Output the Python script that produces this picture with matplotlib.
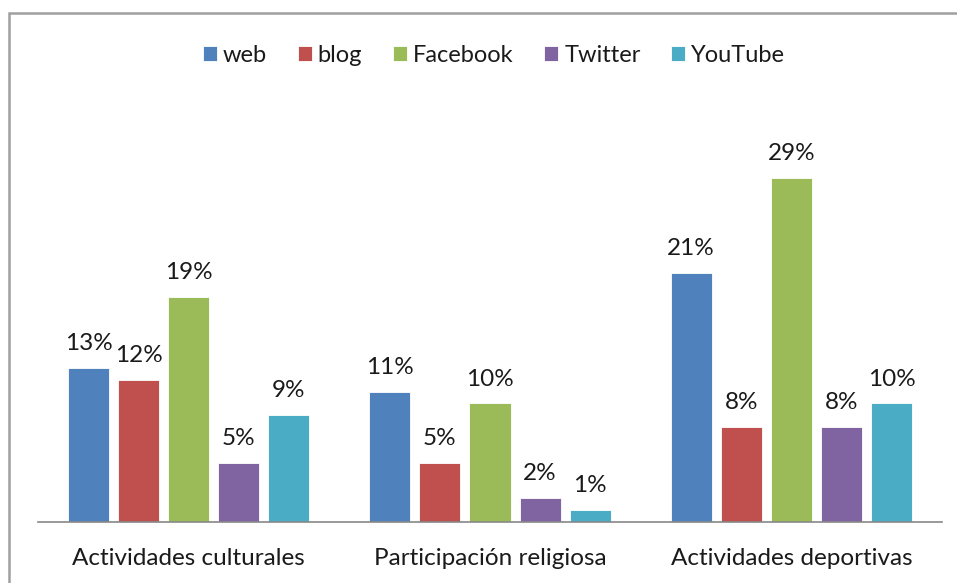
import matplotlib
matplotlib.use("Agg")
import matplotlib.pyplot as plt
from matplotlib.patches import Rectangle
import numpy as np

categories = ["Actividades culturales", "Participación religiosa", "Actividades deportivas"]
series_names = ["web", "blog", "Facebook", "Twitter", "YouTube"]
web = [13, 11, 21]
blog = [12, 5, 8]
facebook = [19, 10, 29]
twitter = [5, 2, 8]
youtube = [9, 1, 10]
colors = ["#4F81BD", "#C0504D", "#9BBB59", "#8064A2", "#4BACC6"]

plt.rcParams['font.family'] = ['Lato', 'DejaVu Sans']

W, H = 957, 583
fig = plt.figure(figsize=(W / 100, H / 100), dpi=100)

# axes: x 38..942 px, baseline y=522, top y=90
ax_left, ax_right, ax_bottom, ax_top = 38, 942, 522, 90
ax = fig.add_axes([ax_left / W, 1 - ax_bottom / H, (ax_right - ax_left) / W, (ax_bottom - ax_top) / H])

px_per_pct = 11.86
ax.set_ylim(0, (ax_bottom - ax_top) / px_per_pct)
ax.set_xlim(-0.5, 2.5)

all_series = [web, blog, facebook, twitter, youtube]
x = np.arange(len(categories))
step = 50 / 301
width = 41 / 301
for i, (name, vals, c) in enumerate(zip(series_names, all_series, colors)):
    pos = x + (i - 2) * step
    bars = ax.bar(pos, vals, width=width, color=c, edgecolor="white", linewidth=0.6, label=name)
    for b, v in zip(bars, vals):
        ax.annotate(f"{v}%", (b.get_x() + b.get_width() / 2, b.get_height()),
                    xytext=(0, 10), textcoords="offset points", ha="center", va="bottom",
                    fontsize=17.5, color="#1a1a1a")

for s in ["top", "right", "left"]:
    ax.spines[s].set_visible(False)
ax.spines["bottom"].set_color("#888888")
ax.spines["bottom"].set_linewidth(1.2)
ax.set_yticks([])
ax.set_xticks(x)
ax.set_xticklabels(categories, fontsize=17.5, color="#1a1a1a")
ax.tick_params(axis="x", length=0, pad=19)

leg = fig.legend(loc="center", bbox_to_anchor=(494 / W, 1 - 55 / H), ncol=5, frameon=False,
                 fontsize=17, handlelength=0.6, handleheight=0.6, handletextpad=0.25,
                 columnspacing=1.3)
for t in leg.get_texts():
    t.set_color("#1a1a1a")

# outer frame (partially cropped)
fig.patches.append(Rectangle((9 / W, -0.1), 1.2, 1 - 13 / H + 0.1, transform=fig.transFigure,
                             fill=False, edgecolor="#a0a0a0", linewidth=1.8))

fig.savefig("out.png", dpi=100)
